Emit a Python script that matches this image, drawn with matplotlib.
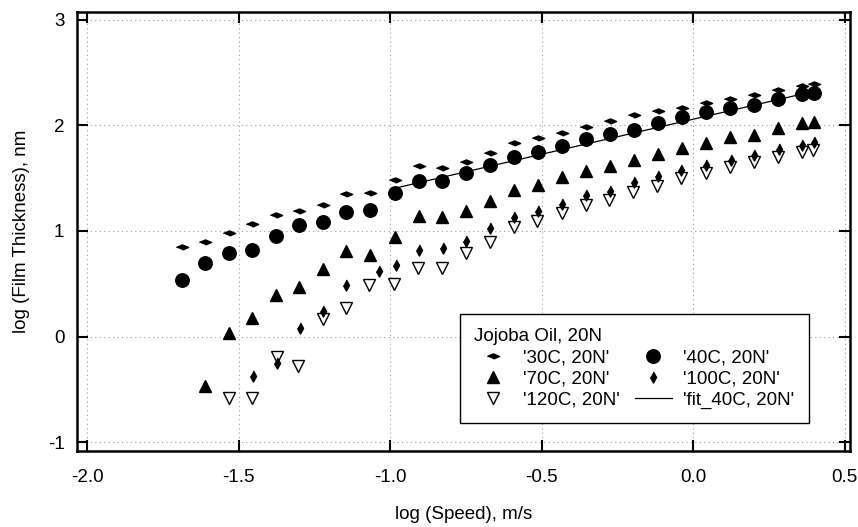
import matplotlib
matplotlib.use("Agg")
import matplotlib.pyplot as plt

plt.rcParams['font.family'] = ['Liberation Sans', 'DejaVu Sans']
plt.rcParams['axes.unicode_minus'] = False

# log(speed) and log(film thickness)
x_30C = [-1.687, -1.611, -1.533, -1.457, -1.375, -1.299, -1.223, -1.144, -1.066, -0.985,
         -0.906, -0.828, -0.749, -0.671, -0.591, -0.513, -0.434, -0.354, -0.276, -0.196,
         -0.115, -0.038, 0.042, 0.122, 0.201, 0.281, 0.359, 0.399]
y_30C = [0.844, 0.891, 0.980, 1.065, 1.155, 1.193, 1.248, 1.349, 1.358, 1.484,
         1.616, 1.600, 1.657, 1.742, 1.831, 1.884, 1.931, 1.988, 2.042, 2.100,
         2.133, 2.167, 2.209, 2.247, 2.287, 2.335, 2.375, 2.389]

x_40C = x_30C
y_40C = [0.532, 0.697, 0.794, 0.822, 0.952, 1.059, 1.087, 1.177, 1.200, 1.364,
         1.478, 1.478, 1.547, 1.626, 1.704, 1.745, 1.808, 1.868, 1.919, 1.960,
         2.020, 2.083, 2.124, 2.162, 2.193, 2.247, 2.294, 2.303]

x_70C = x_30C[1:]
y_70C = [-0.470, 0.035, 0.177, 0.397, 0.466, 0.643, 0.806, 0.775, 0.942, 1.140,
         1.130, 1.190, 1.280, 1.389, 1.437, 1.509, 1.569, 1.617, 1.673, 1.725,
         1.783, 1.837, 1.887, 1.909, 1.972, 2.020, 2.035]

x_100C = [-1.453, -1.372, -1.297, -1.223, -1.144, -1.037, -0.981, -0.906, -0.827, -0.750,
          -0.671, -0.592, -0.512, -0.432, -0.355, -0.276, -0.195, -0.116, -0.039, 0.042,
          0.123, 0.201, 0.282, 0.359, 0.399]
y_100C = [-0.375, -0.249, 0.076, 0.246, 0.485, 0.617, 0.674, 0.822, 0.838, 0.901,
          1.027, 1.137, 1.190, 1.257, 1.342, 1.380, 1.460, 1.518, 1.578, 1.626,
          1.673, 1.720, 1.774, 1.815, 1.846]

x_120C = [-1.532, -1.457, -1.372, -1.303, -1.223, -1.144, -1.069, -0.987, -0.907, -0.828,
          -0.750, -0.671, -0.592, -0.514, -0.434, -0.355, -0.278, -0.198, -0.119, -0.039,
          0.042, 0.121, 0.201, 0.280, 0.359, 0.396]
y_120C = [-0.580, -0.580, -0.196, -0.281, 0.170, 0.271, 0.491, 0.501, 0.649, 0.649,
          0.791, 0.891, 1.037, 1.099, 1.169, 1.248, 1.295, 1.373, 1.430, 1.500,
          1.547, 1.604, 1.657, 1.704, 1.751, 1.767]

fit_x = [-0.985, 0.400]
fit_y = [1.405, 2.325]

xticks = [-2.0, -1.5, -1.0, -0.5, 0.0, 0.5]
yticks = [-1, 0, 1, 2, 3]

flat_diamond = [(-1, 0), (0, 0.42), (1, 0), (0, -0.42)]
thin_diamond = [(0, 1), (0.55, 0), (0, -1), (-0.55, 0)]

fig = plt.figure(figsize=(8.58, 5.27), dpi=100)
ax = fig.add_axes([0.0897, 0.1442, 0.9010, 0.8330])

h30 = ax.plot(x_30C, y_30C, ls='none', marker=flat_diamond, ms=8.8, color='black', label="'30C, 20N'")[0]
h70 = ax.plot(x_70C, y_70C, ls='none', marker='^', ms=9.2, color='black', label="'70C, 20N'")[0]
h120 = ax.plot(x_120C, y_120C, ls='none', marker='v', ms=8.6, mfc='none', mec='black', mew=1.0,
               label="'120C, 20N'")[0]
h40 = ax.plot(x_40C, y_40C, ls='none', marker='o', ms=9.7, color='black', label="'40C, 20N'")[0]
h100 = ax.plot(x_100C, y_100C, ls='none', marker=thin_diamond, ms=8, color='black', label="'100C, 20N'")[0]
hfit = ax.plot(fit_x, fit_y, color='black', lw=0.9, label="'fit_40C, 20N'")[0]

ax.set_xlim(-2.033, 0.517)
ax.set_ylim(-1.085, 3.075)
ax.set_xticks(xticks)
ax.set_xticklabels([f'{t:.1f}' for t in xticks])
ax.set_yticks(yticks)
ax.set_yticklabels([str(t) for t in yticks])

ax.tick_params(direction='in', length=8, width=1.5, top=True, right=True, labelsize=13.5)
ax.tick_params(axis='x', pad=13)
ax.tick_params(axis='y', pad=9)
ax.grid(True, linestyle=(0, (1, 3)), color='#999999', linewidth=0.8)
for s in ax.spines.values():
    s.set_linewidth(1.8)

ax.set_xlabel('log (Speed), m/s', fontsize=13.5, labelpad=14)
ax.set_ylabel('log (Film Thickness), nm', fontsize=13.5, labelpad=13)

leg = ax.legend(handles=[h30, h70, h120, h40, h100, hfit], ncol=2, title='Jojoba Oil, 20N',
                title_fontsize=13.5, fontsize=13.5, alignment='left',
                loc='lower left', bbox_to_anchor=(0.4955, 0.064),
                frameon=True, fancybox=False, framealpha=1, edgecolor='black',
                handlelength=2.0, handletextpad=0.6, columnspacing=0.8,
                labelspacing=0.22, borderpad=0.75, borderaxespad=0)
leg.get_frame().set_linewidth(1.0)

fig.savefig('out.png', dpi=100)
